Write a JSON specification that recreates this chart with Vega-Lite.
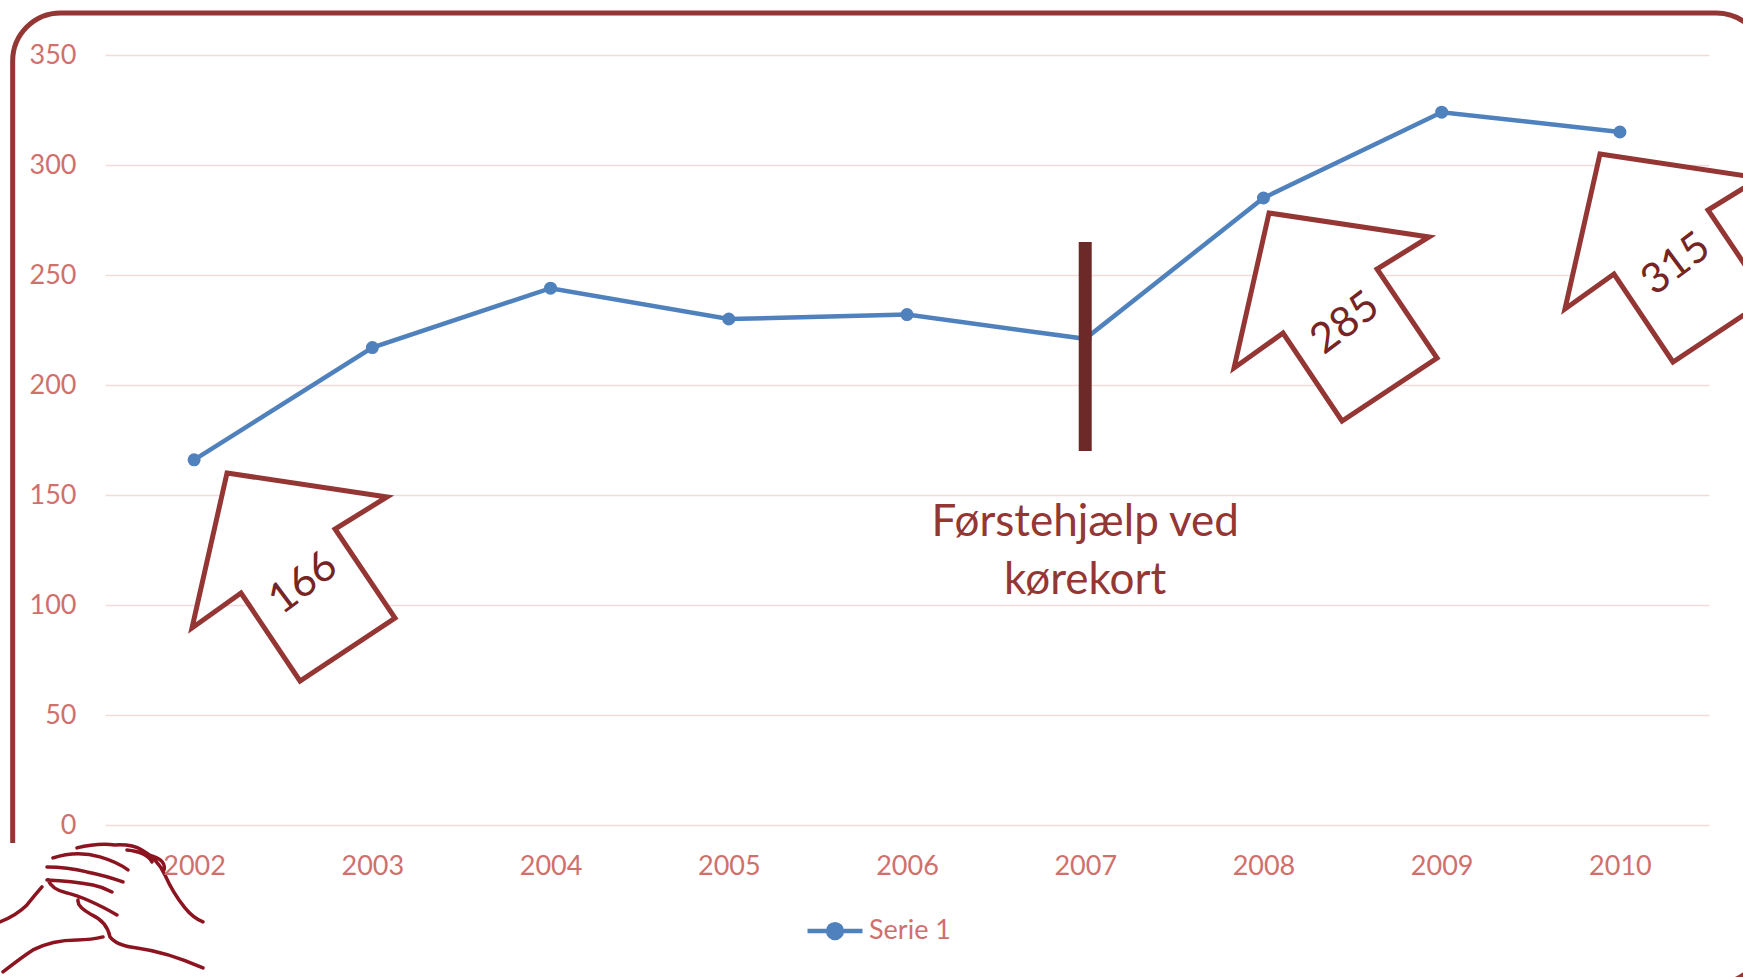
{
  "$schema": "https://vega.github.io/schema/vega-lite/v6.json",
  "width": 1604,
  "height": 770,
  "autosize": {"type": "none"},
  "padding": {"left": 105, "top": 55, "right": 34, "bottom": 152},
  "background": "white",
  "config": {"view": {"stroke": null}, "font": "Lato"},
  "data": {"values": [
      {"year": 2002, "value": 166, "series": "Serie 1"},
      {"year": 2003, "value": 217, "series": "Serie 1"},
      {"year": 2004, "value": 244, "series": "Serie 1"},
      {"year": 2005, "value": 230, "series": "Serie 1"},
      {"year": 2006, "value": 232, "series": "Serie 1"},
      {"year": 2007, "value": 221, "series": "Serie 1"},
      {"year": 2008, "value": 285, "series": "Serie 1"},
      {"year": 2009, "value": 324, "series": "Serie 1"},
      {"year": 2010, "value": 315, "series": "Serie 1"}
  ]},
  "layer": [
    {
      "mark": {"type": "line", "strokeWidth": 4.5},
      "encoding": {
        "x": {
          "field": "year", "type": "quantitative",
          "scale": {"domain": [2001.5, 2010.5], "nice": false, "zero": false},
          "axis": {"title": null, "values": [2002, 2003, 2004, 2005, 2006, 2007, 2008, 2009, 2010], "format": "d", "grid": false, "ticks": false, "domain": false, "labelFontSize": 27, "labelColor": "#d0706d", "labelPadding": 41, "labelBaseline": "middle", "labelFlush": false, "labelFont": "Lato", "zindex": 1}
        },
        "y": {
          "field": "value", "type": "quantitative",
          "scale": {"domain": [0, 350], "nice": false},
          "axis": {"title": null, "values": [0, 50, 100, 150, 200, 250, 300, 350], "grid": true, "gridColor": "#f2dcdb", "gridWidth": 1.5, "ticks": false, "domain": false, "labelFontSize": 27, "labelColor": "#d0706d", "labelPadding": 29, "labelFont": "Lato"}
        },
        "color": {"field": "series", "type": "nominal", "scale": {"domain": ["Serie 1"], "range": ["#4f81bd"]},
          "legend": {"title": null, "orient": "none", "legendX": 700, "legendY": 846, "symbolType": "M-1,0H-0.26M0.26,0H1M-0.25,0A0.25,0.25 0 1,1 0.25,0A0.25,0.25 0 1,1 -0.25,0Z", "symbolSize": 3025, "symbolStrokeWidth": 4.5, "symbolFillColor": "#4f81bd", "symbolStrokeColor": "#4f81bd", "labelFontSize": 27, "labelColor": "#d0706d", "labelFont": "Lato"}}
      }
    },
    {
      "data": {"values": [{"part": "frame", "left": 2000.982, "right": 2010.81, "top": 369.1, "bottom": -72}]},
      "mark": {"type": "rect", "cornerRadius": 48, "fillOpacity": 0, "stroke": "#943634", "strokeWidth": 5, "clip": false},
      "encoding": {"x": {"field": "left", "type": "quantitative"}, "x2": {"field": "right"}, "y": {"field": "top", "type": "quantitative"}, "y2": {"field": "bottom"}}
    },
    {
      "data": {"values": [{"part": "logo", "left": 2000.9, "right": 2002.117, "top": -8.2, "bottom": -80, "cx": 2001.511, "cy": -38.6}]},
      "layer": [
        {
          "mark": {"type": "rect", "fill": "white", "strokeWidth": 0, "clip": false},
          "encoding": {"x": {"field": "left", "type": "quantitative"}, "x2": {"field": "right"}, "y": {"field": "top", "type": "quantitative"}, "y2": {"field": "bottom"}}
        },
        {
          "mark": {"type": "point", "filled": false, "size": 40000, "stroke": "#8b1420", "strokeWidth": 3.5, "opacity": 1, "strokeCap": "round", "clip": false,
            "shape": "M-0.54,-0.52Q-0.3,-0.60,-0.07,-0.53Q0.1,-0.48,0.21,-0.40M-0.60,-0.43Q-0.4,-0.43,-0.20,-0.38Q0,-0.34,0.16,-0.28M-0.60,-0.30Q-0.35,-0.29,-0.14,-0.25Q-0.04,-0.23,0.05,-0.18M-0.30,-0.62Q-0.1,-0.67,0.08,-0.65Q0.25,-0.66,0.35,-0.60Q0.50,-0.52,0.58,-0.35Q0.66,-0.17,0.78,-0.02Q0.86,0.08,0.96,0.12M0.20,-0.60Q0.40,-0.58,0.45,-0.48M0.42,-0.55Q0.60,-0.50,0.57,-0.40M-0.59,-0.30Q-0.55,-0.20,-0.40,-0.17Q-0.20,-0.12,0.10,0.05M-1.07,0.12Q-0.90,0.05,-0.80,-0.05Q-0.72,-0.15,-0.65,-0.23M-0.29,-0.10Q-0.30,-0.03,-0.15,0.05Q0,0.12,0.03,0.27Q0.10,0.36,0.30,0.38Q0.60,0.42,0.96,0.58M-1.04,0.62Q-0.85,0.47,-0.74,0.40Q-0.55,0.30,-0.30,0.30Q-0.15,0.30,-0.04,0.27"},
          "encoding": {"x": {"field": "cx", "type": "quantitative"}, "y": {"field": "cy", "type": "quantitative"}}
        }
      ]
    },
    {
      "mark": {"type": "point", "filled": true, "size": 170, "opacity": 1},
      "encoding": {"x": {"field": "year", "type": "quantitative"}, "y": {"field": "value", "type": "quantitative"}, "color": {"field": "series", "type": "nominal"}}
    },
    {
      "data": {"values": [{"year": 2007, "label": "Førstehjælp ved\nkørekort", "from": 170, "to": 265, "at": 137.3}]},
      "layer": [
        {
          "mark": {"type": "rule", "strokeWidth": 13, "color": "#6d2828"},
          "encoding": {"x": {"field": "year", "type": "quantitative"}, "y": {"field": "from", "type": "quantitative"}, "y2": {"field": "to"}}
        },
        {
          "mark": {"type": "text", "fontSize": 44, "color": "#943634", "lineBreak": "\n", "lineHeight": 58, "baseline": "middle", "align": "center", "font": "Lato"},
          "encoding": {"x": {"field": "year", "type": "quantitative"}, "y": {"field": "at", "type": "quantitative"}, "text": {"field": "label"}}
        }
      ]
    },
    {
      "transform": [{"filter": "datum.year == 2002"}],
      "encoding": {"x": {"field": "year", "type": "quantitative"}, "y": {"field": "value", "type": "quantitative"}},
      "layer": [
        {"mark": {"type": "point", "shape": "M-0.76,-1.10L0.84,-0.86L0.32,-0.54L0.92,0.35L-0.03,0.98L-0.62,0.10L-1.11,0.45Z", "size": 40000, "filled": true, "fill": "white", "stroke": "#943634", "strokeWidth": 5, "opacity": 1, "xOffset": 108.9, "yOffset": 123.2}},
        {"mark": {"type": "text", "fontSize": 42, "color": "#762424", "angle": 323, "xOffset": 108.9, "yOffset": 123.2, "font": "Lato"}, "encoding": {"text": {"field": "value", "format": "d"}}}
      ]
    },
    {
      "transform": [{"filter": "datum.year == 2008"}],
      "encoding": {"x": {"field": "year", "type": "quantitative"}, "y": {"field": "value", "type": "quantitative"}},
      "layer": [
        {"mark": {"type": "point", "shape": "M-0.76,-1.10L0.84,-0.86L0.32,-0.54L0.92,0.35L-0.03,0.98L-0.62,0.10L-1.11,0.45Z", "size": 40000, "filled": true, "fill": "white", "stroke": "#943634", "strokeWidth": 5, "opacity": 1, "xOffset": 81.6, "yOffset": 125}},
        {"mark": {"type": "text", "fontSize": 42, "color": "#762424", "angle": 323, "xOffset": 81.6, "yOffset": 125, "font": "Lato"}, "encoding": {"text": {"field": "value", "format": "d"}}}
      ]
    },
    {
      "transform": [{"filter": "datum.year == 2010"}],
      "encoding": {"x": {"field": "year", "type": "quantitative"}, "y": {"field": "value", "type": "quantitative"}},
      "layer": [
        {"mark": {"type": "point", "shape": "M-0.76,-1.10L0.84,-0.86L0.32,-0.54L0.92,0.35L-0.03,0.98L-0.62,0.10L-1.11,0.45Z", "size": 40000, "filled": true, "fill": "white", "stroke": "#943634", "strokeWidth": 5, "opacity": 1, "xOffset": 56.1, "yOffset": 132}},
        {"mark": {"type": "text", "fontSize": 42, "color": "#762424", "angle": 323, "xOffset": 56.1, "yOffset": 132, "font": "Lato"}, "encoding": {"text": {"field": "value", "format": "d"}}}
      ]
    }
  ]
}
